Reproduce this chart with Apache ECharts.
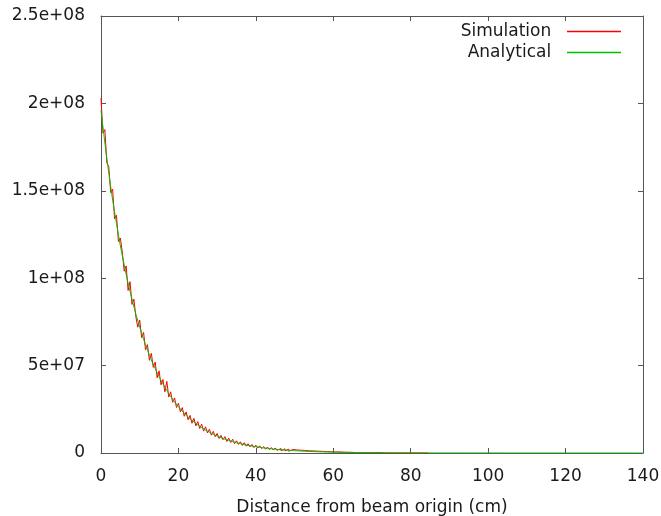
<!DOCTYPE html>
<html>
<head>
    <meta charset="utf-8">
    <title>Beam attenuation</title>
    <style>
        html, body { margin: 0; padding: 0; background: #fff; }
    </style>
</head>
<body>
        <div id="main" style="width: 661px;height:516px;"></div>
</body>
<script src="https://cdn.jsdelivr.net/npm/echarts@6/dist/echarts.min.js"></script>
<script>
// values in units of 1e6, simulation bins are 0.5 cm wide starting at 0
var unit = 1e6;
var binWidth = 0.5;
var simulation = [
    203, 183, 185, 166, 164, 149, 151, 134, 136, 121,
    123, 115, 104, 107, 93, 98, 85, 88, 78, 72,
    76, 66, 69, 59, 62, 53, 57, 49, 52, 43,
    47, 39, 42, 35, 41, 32, 35, 29, 31.5, 26,
    28.5, 23.5, 26, 21, 23.5, 19, 21.5, 17, 19.8, 15.5,
    18, 14, 16.5, 12.5, 15, 11.5, 13.6, 10.2, 12.4, 9.3,
    11.2, 8.3, 10.1, 7.6, 9.4, 6.6, 8.5, 6.0, 7.9, 5.3,
    7.0, 4.9, 6.4, 4.3, 5.9, 3.9, 5.3, 3.5, 4.9, 3.1,
    4.5, 2.8, 4.1, 2.5, 3.7, 2.2, 3.4, 1.9, 3.1, 1.7,
    2.9, 1.5, 2.6, 1.3, 2.4, 1.2, 2.2, 1.0, 2.0, 0.9,
    1.8, 0.8, 1.6, 0.7, 1.5, 0.6, 1.3, 0.5, 1.2, 0.5,
    1.1, 0.4, 1.0, 0.3, 0.9, 0.3, 0.8, 0.2, 0.7, 0.2,
    0.6, 0.1, 0.6, 0.1, 0.5, 0.1, 0.4, 0, 0.4, 0,
    0.3, 0, 0.3, 0, 0.2, 0, 0.3, 0, 0.2, 0,
    0.2, 0, 0.3, 0, 0.2, 0, 0, 0, 0, 0,
    0, 0, 0, 0, 0, 0, 0, 0, 0, 0,
    0, 0, 0, 0, 0, 0, 0, 0.4, 0, 0
];
var analyticalX = [0, 2, 4, 6, 8, 10, 12, 14, 16, 18, 20, 22, 24, 26, 28, 30, 32, 34, 36, 38,
    40, 42, 44, 46, 48, 50, 55, 60, 65, 70, 80, 90, 100, 120, 140];
var analyticalY = [196, 160.5, 131.4, 107.6, 88.1, 72.1, 59.0, 48.3, 39.6, 32.4, 26.5, 21.7, 17.8, 14.6, 11.9, 9.76, 7.99, 6.54, 5.36, 4.38,
    3.59, 2.94, 2.41, 1.97, 1.61, 1.32, 0.80, 0.49, 0.30, 0.18, 0.07, 0.02, 0.01, 0, 0];
var yTickLabels = ['0', '5e+07', '1e+08', '1.5e+08', '2e+08', '2.5e+08'];

var simData = simulation.map(function (v, i) { return [i * binWidth, v * unit]; });
var anaData = analyticalX.map(function (x, i) { return [x, analyticalY[i] * unit]; });

var font = 'DejaVu Sans';
var axisColor = '#555';
var textColor = '#1a1a1a';

var myChart = echarts.init(document.getElementById('main'));

var xBase = {
    type: 'value', min: 0, max: 140, interval: 20,
    splitLine: { show: false },
    axisLine: { show: true, onZero: false, lineStyle: { color: axisColor, width: 1 } },
    axisTick: { show: true, inside: true, length: 5, lineStyle: { color: axisColor } }
};
var yBase = {
    type: 'value', min: 0, max: 2.5e8, interval: 5e7,
    splitLine: { show: false },
    axisLine: { show: true, onZero: false, lineStyle: { color: axisColor, width: 1 } },
    axisTick: { show: true, inside: true, length: 5, lineStyle: { color: axisColor } }
};

myChart.setOption({
    animation: false,
    backgroundColor: '#fff',
    color: ['#ff0000', '#00c000'],
    grid: { left: 101, right: 18, top: 16, bottom: 63, containLabel: false, outerBoundsMode: 'none' },
    legend: {
        orient: 'vertical',
        right: 35,
        top: 18,
        align: 'right',
        icon: 'rect',
        itemWidth: 54,
        itemHeight: 1.5,
        itemGap: 4,
        selectedMode: false,
        formatter: function (name) { return name + '  '; },
        textStyle: { fontFamily: font, fontSize: 17, color: textColor, lineHeight: 17 },
        data: ['Simulation', 'Analytical']
    },
    xAxis: [
        Object.assign({}, xBase, {
            position: 'bottom',
            name: 'Distance from beam origin (cm)',
            nameLocation: 'middle',
            nameGap: 46,
            nameTextStyle: { fontFamily: font, fontSize: 17, color: textColor },
            axisLabel: { margin: 15, fontFamily: font, fontSize: 17, color: textColor }
        }),
        Object.assign({}, xBase, { position: 'top', axisLabel: { show: false } })
    ],
    yAxis: [
        Object.assign({}, yBase, {
            position: 'left',
            axisLabel: {
                margin: 16, fontFamily: font, fontSize: 17, color: textColor,
                formatter: function (v) { return yTickLabels[Math.round(v / 5e7)]; }
            }
        }),
        Object.assign({}, yBase, { position: 'right', axisLabel: { show: false } })
    ],
    series: [
        {
            name: 'Simulation', type: 'line', xAxisIndex: 0, yAxisIndex: 0,
            step: 'end', showSymbol: false, symbol: 'none',
            lineStyle: { width: 1, color: '#ff0000' },
            data: simData
        },
        {
            name: 'Analytical', type: 'line', xAxisIndex: 0, yAxisIndex: 0,
            smooth: true, showSymbol: false, symbol: 'none',
            lineStyle: { width: 1, color: '#00c000' },
            data: anaData
        }
    ]
});
</script>
</html>
